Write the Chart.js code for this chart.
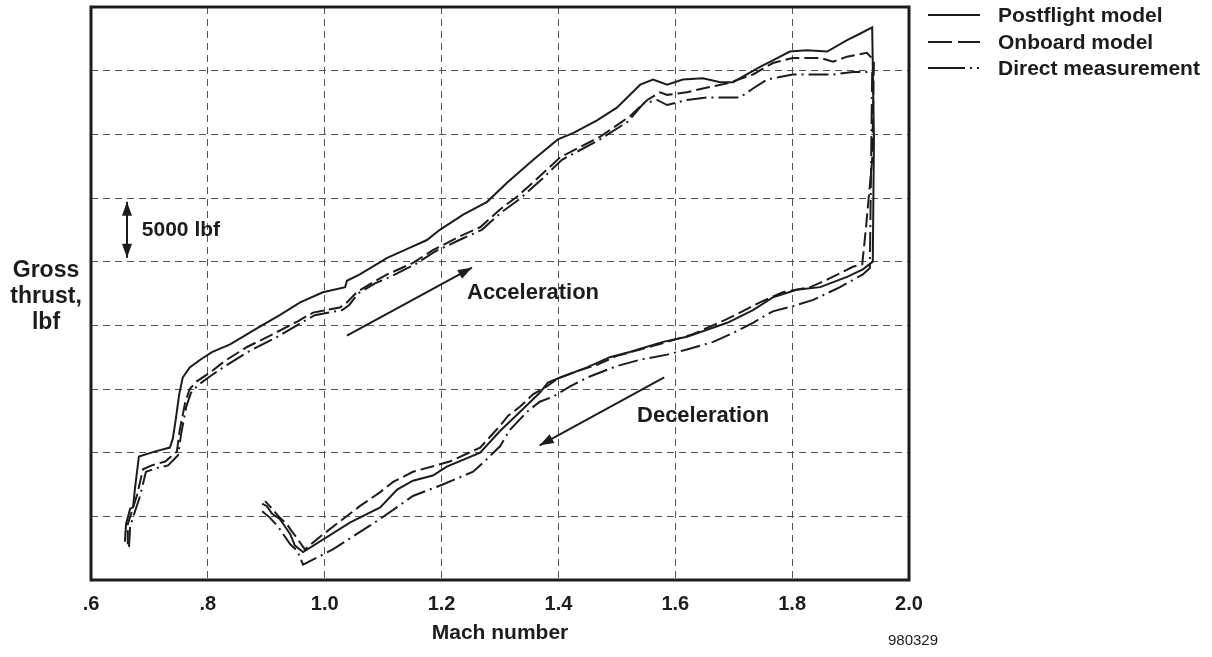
<!DOCTYPE html>
<html>
<head>
<meta charset="utf-8">
<title>Gross thrust vs Mach number</title>
<script src="https://cdn.jsdelivr.net/npm/chart.js@4.4.1/dist/chart.umd.min.js"></script>
<style>
  body { margin: 0; background: #fff; }
  #wrap { position: relative; width: 1212px; height: 657px; }
</style>
</head>
<body>
<div id="wrap"><canvas id="thrustChart"></canvas></div>
<script>
// x axis tick labels (Mach number)
var xTickLabels = ['.6', '.8', '1.0', '1.2', '1.4', '1.6', '1.8', '2.0'];

// Postflight model (solid)
var postMach = [0.658,0.660,0.667,0.672,0.675,0.682,0.710,0.735,0.740,0.745,0.751,0.757,0.769,0.787,0.807,0.838,0.889,0.923,0.958,0.997,1.035,1.038,1.060,1.107,1.146,1.175,1.197,1.237,1.278,1.312,1.357,1.399,1.425,1.466,1.500,1.540,1.562,1.586,1.613,1.647,1.677,1.699,1.745,1.767,1.796,1.825,1.860,1.894,1.916,1.937,1.940,1.938,1.921,1.894,1.848,1.808,1.767,1.733,1.689,1.620,1.579,1.522,1.488,1.449,1.403,1.382,1.368,1.334,1.300,1.266,1.209,1.185,1.151,1.124,1.095,1.043,0.963,0.949,0.941,0.932,0.923,0.910,0.901,0.893];
var postThrust = [3000,4400,5600,5700,7100,9700,10100,10400,11100,12600,14600,15900,16700,17300,17900,18500,19900,20800,21800,22600,23000,23500,24000,25300,26100,26700,27500,28700,29700,31200,33000,34600,35100,36100,37100,38900,39300,38900,39300,39400,39100,39100,40300,40800,41500,41600,41500,42400,42900,43400,34600,25000,24400,23800,23000,22800,22200,21200,20200,19100,18700,17900,17500,16700,15900,15500,14700,13200,11700,10000,8900,8200,7800,7100,5700,4500,2200,2700,3600,4200,4800,5200,5800,6000];

// Onboard model (dashed)
var obMach = [0.663,0.663,0.670,0.679,0.689,0.704,0.727,0.747,0.752,0.761,0.769,0.781,0.804,0.829,0.867,0.911,0.953,0.980,1.026,1.038,1.055,1.083,1.107,1.151,1.185,1.232,1.266,1.300,1.329,1.368,1.403,1.471,1.522,1.552,1.574,1.586,1.620,1.647,1.689,1.733,1.767,1.801,1.848,1.870,1.894,1.928,1.940,1.937,1.926,1.920,1.904,1.865,1.831,1.784,1.745,1.689,1.630,1.586,1.540,1.500,1.466,1.432,1.398,1.380,1.357,1.334,1.314,1.300,1.266,1.214,1.151,1.117,1.095,1.060,0.992,0.966,0.954,0.944,0.935,0.923,0.910,0.898];
var obThrust = [2800,4400,5400,6700,8700,9000,9300,10100,11800,13900,15000,15600,16300,17200,18300,19300,20300,21000,21400,21800,22600,23400,24000,24900,25900,27000,27700,29100,30100,31700,33200,34800,36400,37700,38300,38100,38300,38600,39000,39700,40600,41000,41000,40700,41100,41400,40800,33000,27500,24800,24600,23700,23000,22600,21800,20500,19300,18700,18100,17600,16900,16400,15800,15200,14600,13600,12900,12100,10400,9300,8500,7700,6900,5800,3400,2400,3200,3800,4400,4900,5600,6200];

// Direct measurement (dash-dot)
var dmMach = [0.665,0.667,0.674,0.684,0.694,0.713,0.732,0.749,0.754,0.763,0.771,0.783,0.807,0.833,0.872,0.915,0.956,0.983,1.030,1.042,1.057,1.086,1.112,1.155,1.189,1.235,1.269,1.303,1.333,1.372,1.406,1.471,1.519,1.545,1.569,1.586,1.620,1.654,1.689,1.711,1.733,1.757,1.779,1.801,1.836,1.870,1.904,1.937,1.935,1.933,1.921,1.882,1.836,1.801,1.767,1.733,1.699,1.665,1.620,1.586,1.540,1.500,1.449,1.420,1.391,1.368,1.346,1.317,1.300,1.271,1.254,1.202,1.151,1.095,1.014,0.963,0.953,0.941,0.932,0.920,0.906,0.893];
var dmThrust = [2600,4200,5200,6600,8500,8800,9000,9800,11400,13600,14700,15300,16100,16900,18000,19000,20100,20800,21200,21600,22500,23300,23800,24800,25800,26800,27500,28900,29900,31500,33000,34600,36000,37400,37700,37300,37700,37900,37900,37900,38600,39300,39500,39700,39700,39700,39900,39900,32200,24500,24000,23000,22000,21500,21100,20200,19400,18700,18100,17700,17300,16800,15900,15200,14400,14000,13200,11800,10500,9200,8500,7500,6600,4800,2400,1200,2300,2800,3400,4200,4900,5400];

function pairs(xs, ys) {
    return xs.map(function (x, i) { return { x: x, y: ys[i] }; });
}

var INK = '#1c1c1c';
var FONT = '"Liberation Sans", Arial, Helvetica, sans-serif';

function arrowHead(ctx, x1, y1, x2, y2) {
    var a = Math.atan2(y2 - y1, x2 - x1);
    var len = 14, w = 5;
    ctx.beginPath();
    ctx.moveTo(x2, y2);
    ctx.lineTo(x2 - len * Math.cos(a) + w * Math.sin(a), y2 - len * Math.sin(a) - w * Math.cos(a));
    ctx.lineTo(x2 - len * Math.cos(a) - w * Math.sin(a), y2 - len * Math.sin(a) + w * Math.cos(a));
    ctx.closePath();
    ctx.fill();
}

function arrow(ctx, x1, y1, x2, y2, both) {
    ctx.beginPath();
    ctx.moveTo(x1, y1);
    ctx.lineTo(x2, y2);
    ctx.stroke();
    arrowHead(ctx, x1, y1, x2, y2);
    if (both) arrowHead(ctx, x2, y2, x1, y1);
}

// box, legend, labels and arrows
var extras = {
    id: 'extras',
    afterDraw: function (chart) {
        var ctx = chart.ctx;
        var a = chart.chartArea;
        var sx = chart.scales.x, sy = chart.scales.y;
        ctx.save();
        ctx.setLineDash([]);
        ctx.strokeStyle = INK;
        ctx.fillStyle = INK;

        // frame
        ctx.lineWidth = 3;
        ctx.strokeRect(a.left, a.top, a.right - a.left, a.bottom - a.top);

        // arrows
        ctx.lineWidth = 2;
        var px = function (m) { return sx.getPixelForValue(m); };
        var py = function (t) { return sy.getPixelForValue(t); };
        arrow(ctx, px(0.6616), py(25300), px(0.6616), py(29700), true);
        arrow(ctx, px(1.038), py(19200), px(1.252), py(24530), false);
        arrow(ctx, px(1.581), py(15910), px(1.368), py(10580), false);

        ctx.textBaseline = 'middle';
        ctx.textAlign = 'left';
        ctx.font = 'bold 21px ' + FONT;
        ctx.fillText('5000 lbf', px(0.687), py(27500));
        ctx.font = 'bold 22px ' + FONT;
        ctx.fillText('Acceleration', px(1.2435), py(22570));
        ctx.fillText('Deceleration', px(1.5345), py(12850));

        // x title
        ctx.textAlign = 'center';
        ctx.font = 'bold 21px ' + FONT;
        ctx.fillText('Mach number', (a.left + a.right) / 2, 633);

        // y title
        ctx.font = 'bold 23px ' + FONT;
        ctx.fillText('Gross', 46, 271);
        ctx.fillText('thrust,', 46, 297);
        ctx.fillText('lbf', 46, 323);

        // legend
        var lx = 928, tx = 998;
        ctx.font = 'bold 21px ' + FONT;
        ctx.textAlign = 'left';
        ctx.beginPath(); ctx.moveTo(lx, 15); ctx.lineTo(980, 15); ctx.stroke();
        ctx.fillText('Postflight model', tx, 16);
        ctx.beginPath(); ctx.moveTo(lx, 42); ctx.lineTo(952, 42);
        ctx.moveTo(958, 42); ctx.lineTo(980, 42); ctx.stroke();
        ctx.fillText('Onboard model', tx, 43);
        ctx.beginPath(); ctx.moveTo(lx, 68); ctx.lineTo(965, 68); ctx.stroke();
        ctx.fillRect(970, 67, 2, 2);
        ctx.fillRect(977, 67, 2, 2);
        ctx.fillText('Direct measurement', tx, 69);

        // figure number
        ctx.font = '15px ' + FONT;
        ctx.textAlign = 'center';
        ctx.fillText('980329', 913, 641);
        ctx.restore();
    }
};

var lineStyle = {
    showLine: true,
    pointRadius: 0,
    borderColor: INK,
    borderWidth: 2,
    fill: false,
    tension: 0
};

new Chart(document.getElementById('thrustChart'), {
    type: 'scatter',
    data: {
        datasets: [
            Object.assign({ label: 'Postflight model', data: pairs(postMach, postThrust) }, lineStyle),
            Object.assign({ label: 'Onboard model', data: pairs(obMach, obThrust), borderDash: [14, 5] }, lineStyle),
            Object.assign({ label: 'Direct measurement', data: pairs(dmMach, dmThrust), borderDash: [20, 5, 2, 5] }, lineStyle)
        ]
    },
    options: {
        responsive: true,
        maintainAspectRatio: false,
        animation: false,
        layout: { padding: { left: 91, right: 303, top: 7, bottom: 29 } },
        plugins: { legend: { display: false }, tooltip: { enabled: false } },
        scales: {
            x: {
                type: 'linear',
                min: 0.6,
                max: 2.0,
                ticks: {
                    stepSize: 0.2,
                    padding: 12,
                    color: INK,
                    font: { family: FONT, size: 20, weight: 'bold' },
                    callback: function (v, i) { return xTickLabels[i]; }
                },
                grid: { color: '#555', lineWidth: 1, drawTicks: false },
                border: { display: false, dash: [7, 5] }
            },
            y: {
                min: 0,
                max: 45000,
                ticks: { stepSize: 5000, display: false },
                grid: { color: '#555', lineWidth: 1, drawTicks: false },
                border: { display: false, dash: [7, 5] }
            }
        }
    },
    plugins: [extras]
});
</script>
</body>
</html>
